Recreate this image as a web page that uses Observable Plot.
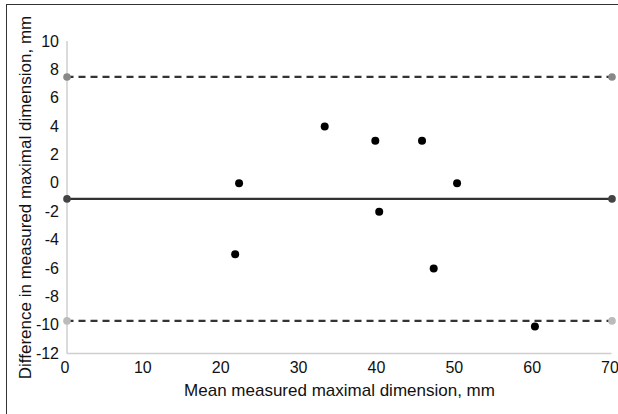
<!DOCTYPE html>
<html>
<head>
<meta charset="utf-8">
<script src="https://cdn.jsdelivr.net/npm/d3@7"></script>
<script src="https://cdn.jsdelivr.net/npm/@observablehq/plot@0.6"></script>
<style>
  html, body { margin: 0; padding: 0; background: #fff; overflow: hidden; }
  #wrap { position: relative; width: 618px; height: 414px; }
  #border { position: absolute; left: 6px; top: 4px; width: 700px; height: 500px;
            border: 1.5px solid #333; pointer-events: none; }
</style>
</head>
<body>
<div id="wrap"><div id="border"></div></div>
<script>
// Data
const meanSize = [22.1, 21.6, 33.1, 39.6, 45.6, 50.1, 40.1, 47.1, 60.1];
const difference = [0, -5, 4, 3, 3, 0, -2, -6, -10.1];
const limitNames = ["upper", "mean", "lower"];
const limitValues = [7.5, -1.1, -9.7];
const xTicks = [0, 10, 20, 30, 40, 50, 60, 70];
const yTicks = [10, 8, 6, 4, 2, 0, -2, -4, -6, -8, -10, -12];
const xTitle = "Mean measured maximal dimension, mm";
const yTitle = "Difference in measured maximal dimension, mm";

const points = meanSize.map((x, i) => ({x, y: difference[i]}));
const limits = limitNames.map((name, i) => ({name, value: limitValues[i]}));
const endColor = {upper: "#888", mean: "#444", lower: "#bbb"};
const ends = limits.flatMap(d => [{x: 0, ...d}, {x: 70, ...d}]);
const fmt = d => String(d);

const chart = Plot.plot({
  width: 618,
  height: 414,
  marginLeft: 66.5,
  marginRight: 6.5,
  marginTop: 41,
  marginBottom: 61,
  style: {fontFamily: "'Liberation Sans', Arial, sans-serif", fontSize: "16px", color: "#111", background: "transparent", overflow: "visible"},
  x: {domain: [0, 70]},
  y: {domain: [-12, 10]},
  marks: [
    Plot.ruleX([0], {stroke: "#cfcfcf", strokeWidth: 1.5}),
    Plot.ruleY([-12], {stroke: "#cfcfcf", strokeWidth: 1.5}),
    Plot.axisX({ticks: xTicks, tickFormat: fmt, tickSize: 0, tickPadding: 8, label: null, fontSize: 16, dx: -2}),
    Plot.axisY({ticks: yTicks, tickFormat: fmt, tickSize: 0, tickPadding: 8, label: null, fontSize: 16}),
    Plot.ruleY(limits.filter(d => d.name !== "mean"), {y: "value", x1: 0, x2: 70, stroke: "#333", strokeWidth: 2.2, strokeDasharray: "7,5"}),
    Plot.ruleY(limits.filter(d => d.name === "mean"), {y: "value", x1: 0, x2: 70, stroke: "#333", strokeWidth: 2.2}),
    Plot.dot(ends, {x: "x", y: "value", r: 3.8, fill: d => endColor[d.name], stroke: "none"}),
    Plot.dot(points, {x: "x", y: "y", r: 4, fill: "black", stroke: "none"}),
    Plot.text([xTitle], {frameAnchor: "bottom", dy: 42.5, fontSize: 17, fill: "#111", textAnchor: "middle"}),
    Plot.text([yTitle], {frameAnchor: "left", dx: -41, rotate: -90, fontSize: 17, fill: "#111", textAnchor: "middle"})
  ]
});
document.getElementById("wrap").prepend(chart);
</script>
</body>
</html>
